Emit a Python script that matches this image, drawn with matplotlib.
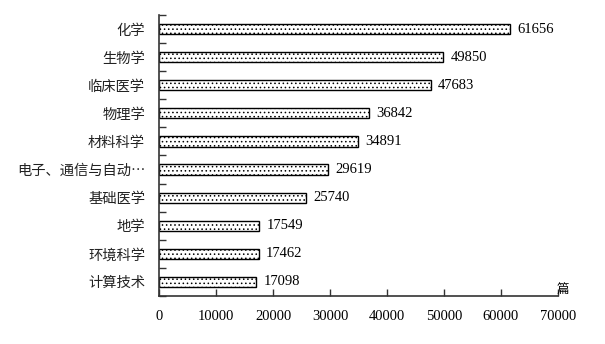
import matplotlib
matplotlib.use("Agg")
import matplotlib.pyplot as plt
from matplotlib.ticker import FixedLocator

plt.rcParams['font.family'] = ['Liberation Serif', 'Noto Sans CJK SC']
plt.rcParams['hatch.linewidth'] = 0.6

categories = ["化学", "生物学", "临床医学", "物理学", "材料科学",
              "电子、通信与自动…", "基础医学", "地学", "环境科学", "计算技术"]
values = [61656, 49850, 47683, 36842, 34891, 29619, 25740, 17549, 17462, 17098]
xticks = [0, 10000, 20000, 30000, 40000, 50000, 60000, 70000]
unit = "篇"

fig = plt.figure(figsize=(6.05, 3.44), dpi=100)
ax = fig.add_axes([159/605, 1-296/344, (558-159)/605, (296-15)/344])

ypos = list(range(len(categories)))
ax.barh(ypos, values, height=0.36, color='white', edgecolor='black',
        linewidth=1.0, hatch='....')
for y, v in zip(ypos, values):
    ax.text(v + 1300, y, str(v), va='center', ha='left', fontsize=10.5)

ax.set_ylim(len(categories) - 0.5, -0.5)
ax.set_xlim(0, 70000)
ax.set_yticks(ypos)
ax.set_yticklabels(categories, fontsize=10.3, family=['Noto Sans CJK SC'], color='#222222')
ax.tick_params(axis='y', which='major', length=0, pad=10)
ax.yaxis.set_minor_locator(FixedLocator([i + 0.5 for i in range(-1, len(categories))]))
ax.tick_params(axis='y', which='minor', direction='in', length=5, width=1, color='#333333')
ax.set_xticks(xticks)
ax.set_xticklabels([str(t) for t in xticks], fontsize=10.5)
ax.tick_params(axis='x', direction='in', length=5, width=1, color='#333333', pad=10)

for s in ['top', 'right']:
    ax.spines[s].set_visible(False)
for s in ['left', 'bottom']:
    ax.spines[s].set_color('#333333')
    ax.spines[s].set_linewidth(1.2)

ax.text(0.997, 0.0, unit, transform=ax.transAxes, ha='left', va='bottom',
        fontsize=9, family=['Noto Sans CJK SC'])

fig.savefig("out.png", dpi=100, facecolor='white')
